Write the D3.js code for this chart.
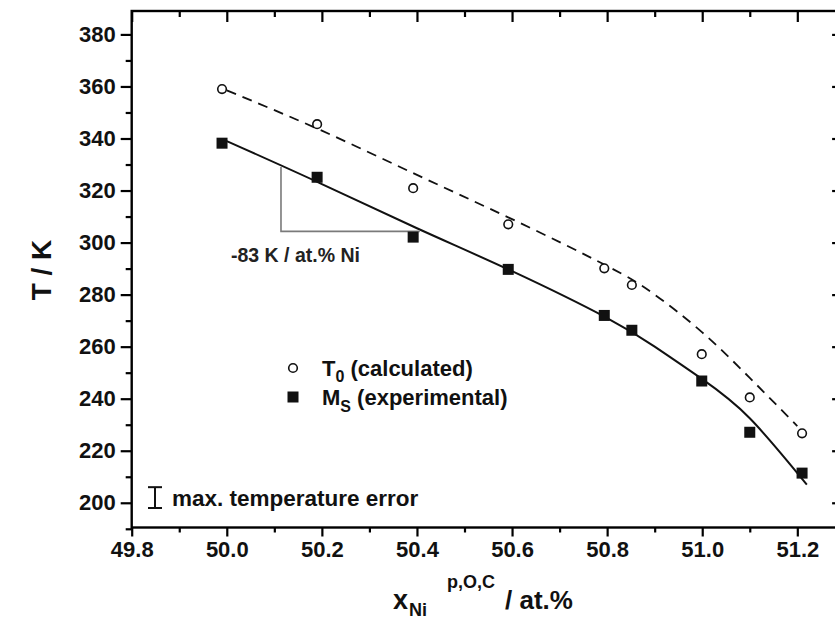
<!DOCTYPE html>
<html><head><meta charset="utf-8">
<script src="https://cdn.jsdelivr.net/npm/d3@7"></script>
<style>
html,body{margin:0;padding:0;background:#fff;}
svg{display:block;font-family:"Liberation Sans",Arial,Helvetica,sans-serif;font-weight:bold;}
</style></head>
<body><svg id="c" width="835" height="626"></svg>
<script>
// ---- data ----
const xNi = [49.99, 50.19, 50.392, 50.592, 50.794, 50.852, 50.999, 51.10, 51.21];
const T0calc = [359.0, 345.5, 320.9, 307.0, 290.1, 283.7, 257.1, 240.5, 226.7];
const MsExp = [338.2, 325.1, 302.1, 289.7, 272.0, 266.3, 246.8, 227.1, 211.4];
const fitMsX = [50.0, 50.2, 50.4, 50.6, 50.8, 50.9, 51.0, 51.1, 51.22];
const fitMsY = [339.0, 322.5, 305.5, 289.0, 271.0, 260.0, 247.5, 232.5, 207.0];
const fitT0X = [50.0, 50.2, 50.4, 50.6, 50.8, 50.9, 51.0, 51.1, 51.2];
const fitT0Y = [358.5, 343.0, 326.0, 309.0, 291.0, 280.0, 265.5, 248.0, 229.5];
const xTicks = [49.8, 50.0, 50.2, 50.4, 50.6, 50.8, 51.0, 51.2];
const xMinor = [49.9, 50.1, 50.3, 50.5, 50.7, 50.9, 51.1];
const yTicks = [200, 220, 240, 260, 280, 300, 320, 340, 360, 380];
const yMinor = [190, 210, 230, 250, 270, 290, 310, 330, 350, 370];
const slopeX = [50.114, 50.406];
const slopeT = [329.0, 304.3];
const slopeLabel = "-83 K / at.% Ni";
const errCenter = 202, errHalf = 4;

// ---- layout ----
const svg = d3.select("#c");
const x = d3.scaleLinear().domain([49.8, 51.29]).range([131.7, 840.1]);
const y = d3.scaleLinear().domain([190.5, 389]).range([527.5, 11]);
const X0 = x.range()[0], X1 = x.range()[1], Y0 = y.range()[0], Y1 = y.range()[1];
const fs = 22;

function styleAxis(g){
  g.select(".domain").remove();
  g.selectAll(".tick line").attr("stroke","#000").attr("stroke-width",2.2);
  g.selectAll("text").attr("fill","#111").style("font-size",fs+"px").style("font-weight","bold");
}
// bottom
svg.append("g").attr("transform",`translate(0,${Y0})`)
  .call(d3.axisBottom(x).tickValues(xTicks).tickSize(9).tickPadding(5).tickFormat(d3.format(".1f"))).call(styleAxis);
svg.append("g").attr("transform",`translate(0,${Y0})`)
  .call(d3.axisBottom(x).tickValues(xMinor).tickSize(5).tickFormat("")).call(styleAxis);
// top (inward)
svg.append("g").attr("transform",`translate(0,${Y1})`)
  .call(d3.axisBottom(x).tickValues(xTicks).tickSize(11).tickFormat("")).call(styleAxis);
svg.append("g").attr("transform",`translate(0,${Y1})`)
  .call(d3.axisBottom(x).tickValues(xMinor).tickSize(6).tickFormat("")).call(styleAxis);
// left
svg.append("g").attr("transform",`translate(${X0},0)`)
  .call(d3.axisLeft(y).tickValues(yTicks).tickSize(11).tickPadding(5)).call(styleAxis);
svg.append("g").attr("transform",`translate(${X0},0)`)
  .call(d3.axisLeft(y).tickValues(yMinor).tickSize(6).tickFormat("")).call(styleAxis);
// right (inward)
svg.append("g").attr("transform",`translate(${X1},0)`)
  .call(d3.axisLeft(y).tickValues(yTicks).tickSize(8).tickFormat("")).call(styleAxis);

// frame
svg.append("rect").attr("x",X0).attr("y",Y1).attr("width",X1-X0).attr("height",Y0-Y1)
  .attr("fill","none").attr("stroke","#000").attr("stroke-width",2.4);

// fit lines
const line = d3.line().x(d=>x(d[0])).y(d=>y(d[1])).curve(d3.curveNatural);
svg.append("path").datum(fitT0X.map((v,i)=>[v,fitT0Y[i]])).attr("d",line)
  .attr("fill","none").attr("stroke","#111").attr("stroke-width",1.8).attr("stroke-dasharray","10,7");
svg.append("path").datum(fitMsX.map((v,i)=>[v,fitMsY[i]])).attr("d",line)
  .attr("fill","none").attr("stroke","#111").attr("stroke-width",2);

// slope triangle
svg.append("path")
  .attr("d",`M${x(slopeX[0])},${y(slopeT[0])}V${y(slopeT[1])}H${x(slopeX[1])}`)
  .attr("fill","none").attr("stroke","#7a7a7a").attr("stroke-width",1.6);
svg.append("text").attr("x",x(slopeX[0])-50).attr("y",y(slopeT[1])+31)
  .style("font-size","19.5px").attr("fill","#222").text(slopeLabel);

// markers
svg.append("g").selectAll("circle").data(xNi).join("circle")
  .attr("cx",d=>x(d)).attr("cy",(d,i)=>y(T0calc[i])).attr("r",4.3)
  .attr("fill","#fff").attr("stroke","#111").attr("stroke-width",1.6);
const sq = 11;
svg.append("g").selectAll("rect").data(xNi).join("rect")
  .attr("x",d=>x(d)-sq/2).attr("y",(d,i)=>y(MsExp[i])-sq/2).attr("width",sq).attr("height",sq)
  .attr("fill","#111");

// legend
const lg = svg.append("g").attr("transform","translate(293,368)");
lg.append("circle").attr("r",4.3).attr("fill","#fff").attr("stroke","#111").attr("stroke-width",1.6);
lg.append("rect").attr("x",-5.5).attr("y",23.5).attr("width",11).attr("height",11).attr("fill","#111");
const t1 = lg.append("text").attr("x",29).attr("y",8).style("font-size","22px").attr("fill","#111");
t1.append("tspan").text("T");
t1.append("tspan").attr("dy",6).style("font-size","16px").text("0");
t1.append("tspan").attr("dy",-6).text(" (calculated)");
const t2 = lg.append("text").attr("x",29).attr("y",37).style("font-size","22px").attr("fill","#111");
t2.append("tspan").text("M");
t2.append("tspan").attr("dy",7).style("font-size","16px").text("S");
t2.append("tspan").attr("dy",-7).text(" (experimental)");

// error bar
const ex = 155;
const eb = svg.append("g").attr("stroke","#111").attr("stroke-width",2);
eb.append("line").attr("x1",ex).attr("x2",ex).attr("y1",y(errCenter+errHalf)).attr("y2",y(errCenter-errHalf));
eb.append("line").attr("x1",ex-7).attr("x2",ex+7).attr("y1",y(errCenter+errHalf)).attr("y2",y(errCenter+errHalf));
eb.append("line").attr("x1",ex-7).attr("x2",ex+7).attr("y1",y(errCenter-errHalf)).attr("y2",y(errCenter-errHalf));
svg.append("text").attr("x",172).attr("y",y(errCenter)+8).style("font-size","22.5px").attr("fill","#111")
  .text("max. temperature error");

// axis titles
svg.append("text").attr("transform","translate(51,270) rotate(-90)").attr("text-anchor","middle")
  .style("font-size","28px").attr("fill","#111").text("T / K");
const tg = svg.append("g").attr("fill","#111");
tg.append("text").attr("x",393).attr("y",609).style("font-size","27px").text("x");
tg.append("text").attr("x",409).attr("y",616).style("font-size","18px").text("Ni");
tg.append("text").attr("x",447).attr("y",588).style("font-size","18px").text("p,O,C");
tg.append("text").attr("x",505).attr("y",609).style("font-size","26px").text("/ at.%");
</script></body></html>
